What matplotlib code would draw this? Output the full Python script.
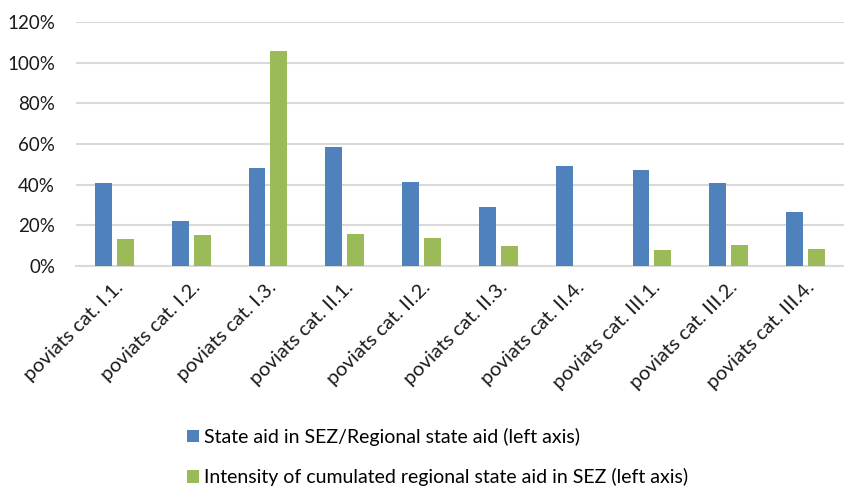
import matplotlib
matplotlib.use("Agg")
import matplotlib.pyplot as plt
import numpy as np
from matplotlib.ticker import FuncFormatter, MultipleLocator

categories = ["poviats cat. I.1.", "poviats cat. I.2.", "poviats cat. I.3.",
              "poviats cat. II.1.", "poviats cat. II.2.", "poviats cat. II.3.",
              "poviats cat. II.4.", "poviats cat. III.1.", "poviats cat. III.2.",
              "poviats cat. III.4."]
state_aid_share = [40.6, 22.3, 48.4, 58.4, 41.2, 29.1, 49.4, 47.3, 40.6, 26.8]
intensity = [13.1, 15.4, 105.8, 15.5, 13.9, 10.0, 0.0, 7.8, 10.5, 8.3]
series_names = ["State aid in SEZ/Regional state aid (left axis)",
                "Intensity of cumulated regional state aid in SEZ (left axis)"]

plt.rcParams['font.family'] = ['Lato', 'DejaVu Sans']

fig = plt.figure(figsize=(8.44, 4.87), dpi=100)
ax = fig.add_axes([0.090, 0.4538, 0.910, 0.501])

x = np.arange(len(categories))
w = 0.22
gap = 0.065
ax.bar(x - (w + gap) / 2, state_aid_share, width=w, color='#4f81bd', label=series_names[0], zorder=3)
ax.bar(x + (w + gap) / 2, intensity, width=w, color='#9bbb59', label=series_names[1], zorder=3)

ax.set_xlim(-0.5, len(categories) - 0.5)
ax.set_ylim(0, 120)
ax.yaxis.set_major_locator(MultipleLocator(20))
ax.yaxis.set_major_formatter(FuncFormatter(lambda v, p: f"{int(v)}%"))
ax.grid(axis='y', color='#d9d9d9', linewidth=1.5, zorder=0)
ax.set_axisbelow(True)
for s in ['top', 'right', 'left']:
    ax.spines[s].set_visible(False)
ax.spines['bottom'].set_color('#d9d9d9')
ax.spines['bottom'].set_linewidth(1.5)
ax.tick_params(axis='both', length=0, labelsize=13.5, colors='#1a1a1a')
ax.tick_params(axis='y', pad=15)
ax.tick_params(axis='x', pad=9, labelsize=14.5)
ax.set_xticks(x)
ax.set_xticklabels(categories, rotation=45, ha='right', rotation_mode='anchor')

fig.legend(loc='upper left', bbox_to_anchor=(187 / 844, 0.122), ncol=1,
           frameon=False, fontsize=14, handlelength=0.62, handleheight=0.62,
           handletextpad=0.25, labelspacing=1.15, borderaxespad=0, borderpad=0)

fig.savefig("out.png", dpi=100)
